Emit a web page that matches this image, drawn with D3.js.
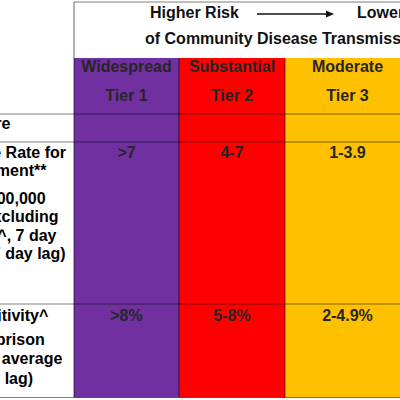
<!DOCTYPE html>
<html>
<head>
<meta charset="utf-8" />
<title>Tier thresholds</title>
<style>
  body { margin: 0; background: #fff; }
  svg { display: block; font-family: "Liberation Sans", Arial, sans-serif; font-weight: bold; }
</style>
</head>
<body>
<svg id="chart" width="400" height="400"></svg>
<script src="https://d3js.org/d3.v7.min.js"></script>
<script>
// ---- data ----
var tiers = ["Tier 1", "Tier 2", "Tier 3", "Tier 4"];
var tierNames = ["Widespread", "Substantial", "Moderate", "Minimal"];
var caseRate = [">7", "4-7", "1-3.9", "<1"];
var positivity = [">8%", "5-8%", "2-4.9%", "<2%"];
var headerLine1 = ["Higher Risk", "Lower Risk"];
var headerLine2 = "of Community Disease Transmission";
var measureLabel = ["Measure"];
var caseRateLabel = ["Adjusted Case Rate for", "Tier Assignment**", "", "(Case per 100,000",
                     "population excluding", "prison cases^, 7 day", "average with 7 day lag)"];
var positivityLabel = ["Testing Positivity^", "(excluding prison", "cases^, 7 day average", "with 7 day lag)"];

// ---- layout ----
var svg = d3.select("#chart");
var colLeft = d3.scaleOrdinal().domain(tiers).range([74, 179, 285, 410]);
var colWidth = d3.scaleOrdinal().domain(tiers).range([105, 106, 125, 110]);
var colour = d3.scaleOrdinal().domain(tiers).range(["#7030a0", "#ff0000", "#ffc000", "#ffff00"]);
var rows = { top: 2, tier: 58, measure: 114, cases: 142, pos: 304, bottom: 397.5 };
var labelX = -22;
var cx = function(t) { return colLeft(t) + colWidth(t) / 2; };

// coloured tier columns
svg.append("g").selectAll("rect").data(tiers).join("rect")
  .attr("x", function(d) { return colLeft(d); })
  .attr("y", rows.tier)
  .attr("width", function(d) { return colWidth(d); })
  .attr("height", rows.bottom - rows.tier)
  .attr("fill", function(d) { return colour(d); });

// grid lines
var grid = svg.append("g").attr("stroke", "#000").attr("stroke-opacity", 0.5).attr("stroke-width", 1.2);
[rows.measure, rows.cases, rows.pos, rows.bottom].forEach(function(y) {
  grid.append("line").attr("x1", 0).attr("x2", 400).attr("y1", y).attr("y2", y);
});
grid.append("line").attr("x1", 74).attr("x2", 400).attr("y1", rows.top).attr("y2", rows.top);
grid.append("line").attr("x1", 74).attr("x2", 74).attr("y1", rows.top).attr("y2", rows.bottom);
tiers.slice(1).forEach(function(t) {
  grid.append("line").attr("x1", colLeft(t)).attr("x2", colLeft(t)).attr("y1", rows.tier).attr("y2", rows.bottom);
});

// header
var head = svg.append("g").attr("fill", "#111").attr("font-size", 16);
head.append("text").attr("x", 150).attr("y", 18).text(headerLine1[0]);
head.append("text").attr("x", 357).attr("y", 18).text(headerLine1[1]);
head.append("text").attr("x", 145).attr("y", 44).text(headerLine2);
head.append("line").attr("x1", 257).attr("x2", 327).attr("y1", 14).attr("y2", 14)
  .attr("stroke", "#111").attr("stroke-width", 1.5);
head.append("path").attr("d", "M326,10.5L334,14L326,17.5Z").attr("fill", "#111");

// tier headers and values
var cells = svg.append("g").attr("fill", "#262626").attr("font-size", 16).attr("text-anchor", "middle");
cells.selectAll("text.name").data(tiers).join("text").attr("class", "name")
  .attr("x", cx).attr("y", 72).text(function(d, i) { return tierNames[i]; });
cells.selectAll("text.tier").data(tiers).join("text").attr("class", "tier")
  .attr("x", cx).attr("y", 101).text(function(d) { return d; });
cells.selectAll("text.cases").data(tiers).join("text").attr("class", "cases")
  .attr("x", cx).attr("y", 158).text(function(d, i) { return caseRate[i]; });
cells.selectAll("text.pos").data(tiers).join("text").attr("class", "pos")
  .attr("x", cx).attr("y", 321).text(function(d, i) { return positivity[i]; });

// measure column (mostly off the left edge)
var left = svg.append("g").attr("fill", "#000").attr("font-size", 16).attr("text-anchor", "middle");
left.append("text").attr("x", labelX).attr("y", 128.5).text(measureLabel[0]);
var caseY = [158, 176, 190, 204, 222, 241, 259];
left.selectAll("text.cl").data(caseRateLabel).join("text").attr("class", "cl")
  .attr("x", labelX).attr("y", function(d, i) { return caseY[i]; }).text(function(d) { return d; });
var posY = [321, 345, 364, 384];
left.selectAll("text.pl").data(positivityLabel).join("text").attr("class", "pl")
  .attr("x", labelX).attr("y", function(d, i) { return posY[i]; }).text(function(d) { return d; });
</script>
</body>
</html>
